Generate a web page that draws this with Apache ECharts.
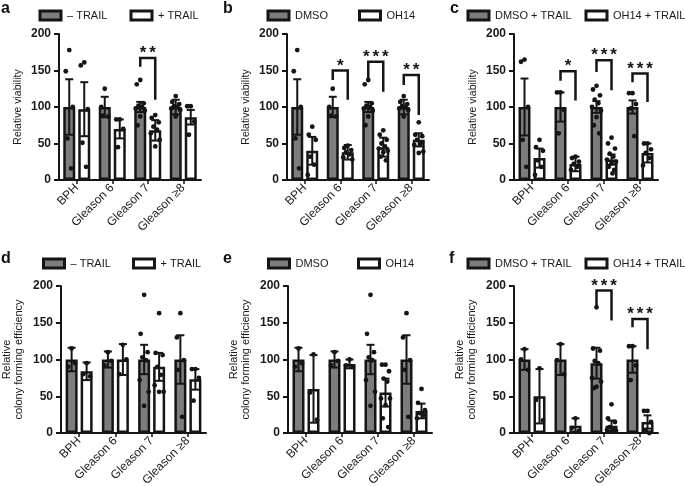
<!DOCTYPE html>
<html><head><meta charset="utf-8">
<script src="https://cdn.jsdelivr.net/npm/echarts@6/dist/echarts.min.js"></script>
<style>html,body{margin:0;padding:0;background:#fff}#c{width:685px;height:486px}</style>
</head><body><div id="c"></div>
<script>
// ---------- DATA ----------
const categories = ['BPH', 'Gleason 6', 'Gleason 7', 'Gleason \u22658'];
const panelLetters = ['a', 'b', 'c', 'd', 'e', 'f'];
const yNameTop = 'Relative viability';
const yNameBottom = 'Relative\ncolony forming efficiency';

const a_names = ['\u2013 TRAIL', '+ TRAIL'];
const a_mean_ctrl = [100, 100, 100, 100];
const a_sem_ctrl = [38, 14, 7, 10];
const a_mean_trt = [97, 70, 68, 86];
const a_sem_trt = [37, 13, 14, 10];
const a_dots_ctrl = [[178, 149, 100, 57, 16], [125, 100, 87, 88], [137, 131, 105, 102, 100, 98, 95, 87, 75], [115, 107, 104, 101, 100, 98, 96, 87]];
const a_dots_trt = [[161, 157, 97, 51, 18], [83, 83, 70, 45], [89, 85, 79, 73, 69, 64, 55, 46], [101, 101, 80, 62]];
const a_brackets = [[2, 167, 155, 110, '**']];

const b_names = ['DMSO', 'OH14'];
const b_mean_ctrl = [100, 100, 100, 100];
const b_sem_ctrl = [38, 14, 7, 10];
const b_mean_trt = [40, 38, 45, 55];
const b_sem_trt = [19, 10, 13, 9];
const b_dots_ctrl = [[178, 149, 100, 57, 16], [125, 100, 87, 88], [137, 131, 105, 102, 100, 98, 95, 87, 75], [115, 107, 104, 101, 100, 98, 96, 87]];
const b_dots_trt = [[73, 62, 55, 32, 21, 7], [47, 44, 41, 38, 35, 31, 28], [68, 62, 55, 50, 46, 43, 40, 38, 32, 27], [79, 62, 60, 55, 50, 48, 39, 37]];
const b_brackets = [[1, 150, 137, 110, '*'], [2, 162, 137, 121, '***'], [3, 144, 130, 89, '**']];

const c_names = ['DMSO + TRAIL', 'OH14 + TRAIL'];
const c_mean_ctrl = [100, 100, 100, 100];
const c_sem_ctrl = [39, 20, 8, 9];
const c_mean_trt = [30, 22, 28, 37];
const c_sem_trt = [13, 10, 7, 13];
const c_dots_ctrl = [[165, 162, 100, 55, 18], [120, 120, 96, 64], [129, 124, 116, 110, 105, 100, 95, 86, 75, 64], [119, 119, 104, 98, 60]];
const c_dots_trt = [[55, 45, 40, 27, 18, 7], [32, 30, 25, 22, 18, 14], [58, 50, 43, 36, 32, 28, 25, 23, 18, 14, 9], [50, 50, 42, 37, 30, 20]];
const c_brackets = [[1, 149, 136, 109, '*'], [2, 164, 148, 123, '***'], [3, 146, 134, 107, '***']];

const d_names = ['\u2013 TRAIL', '+ TRAIL'];
const d_mean_ctrl = [100, 100, 100, 100];
const d_sem_ctrl = [16, 11, 20, 33];
const d_mean_trt = [84, 100, 90, 73];
const d_sem_trt = [12, 21, 19, 14];
const d_dots_ctrl = [[115, 90, 95], [110, 92, 98], [188, 135, 110, 103, 99, 72, 56, 37], [163, 130, 99, 86, 22]];
const d_dots_trt = [[95, 80, 77], [120, 80, 100], [163, 109, 106, 90, 79, 65, 56, 56], [87, 87, 75, 44]];
const d_brackets = [];

const e_names = ['DMSO', 'OH14'];
const e_mean_ctrl = [100, 100, 100, 100];
const e_sem_ctrl = [16, 11, 20, 33];
const e_mean_trt = [60, 94, 55, 30];
const e_sem_trt = [46, 6, 19, 10];
const e_dots_ctrl = [[115, 90, 95], [110, 92, 98], [188, 135, 110, 103, 99, 72, 56, 37], [163, 130, 99, 86, 22]];
const e_dots_trt = [[107, 55, 18], [100, 92, 90], [93, 93, 84, 74, 70, 47, 47, 38, 20, 8], [60, 41, 31, 27, 24, 20]];
const e_brackets = [];

const f_names = ['DMSO + TRAIL', 'OH14 + TRAIL'];
const f_mean_ctrl = [100, 100, 95, 100];
const f_sem_ctrl = [14, 21, 21, 18];
const f_mean_trt = [50, 10, 10, 15];
const f_sem_trt = [37, 10, 7, 9];
const f_dots_ctrl = [[114, 100, 86], [121, 99, 80], [171, 115, 112, 98, 95, 75, 70, 63, 61], [118, 118, 92, 72]];
const f_dots_trt = [[88, 45, 17], [20, 7, 3], [39, 20, 15, 8, 5, 4, 3, 2], [30, 30, 15, 4, 0]];
const f_brackets = [[2, 194, 171, 153, '***'], [3, 155, 144, 114, '***']];

// ---------- LAYOUT / STYLE ----------
const FONT = 'Liberation Sans, Arial, Helvetica, sans-serif';
const BAR_W = 12, BAR_GAP = 0.25;
const OFF = (BAR_W + BAR_W * BAR_GAP) / 2;
const STAR_PITCH = 9.5;
const JITTER = [0, -3.5, 3.5, -1.8, 1.8, -4.5, 4.5, 0, -2.7, 2.7, 1];
const GRIDS = [
  { left: 59, top: 34, width: 142, height: 146 },
  { left: 287, top: 34, width: 142, height: 146 },
  { left: 514, top: 34, width: 144, height: 146 },
  { left: 61, top: 286, width: 145, height: 147 },
  { left: 288, top: 286, width: 144, height: 147 },
  { left: 514, top: 286, width: 144, height: 147 }
];
const LETTER_POS = [[1, 1], [223, 1], [450, 1], [1, 251], [223, 251], [449, 251]];
const LEGEND_POS = [
  [[38.5, 9.5], [129.5, 9.5]],
  [[266.5, 9.5], [358, 9.5]],
  [[466.5, 9.5], [584.5, 9.5]],
  [[42, 257.5], [132, 257.5]],
  [[267, 257.5], [357, 257.5]],
  [[466.5, 257.5], [584.5, 257.5]]
];
const GRAY = '#7d7d7d', INK = '#151515';

const panels = [
  [a_names, a_mean_ctrl, a_sem_ctrl, a_mean_trt, a_sem_trt, a_dots_ctrl, a_dots_trt, a_brackets],
  [b_names, b_mean_ctrl, b_sem_ctrl, b_mean_trt, b_sem_trt, b_dots_ctrl, b_dots_trt, b_brackets],
  [c_names, c_mean_ctrl, c_sem_ctrl, c_mean_trt, c_sem_trt, c_dots_ctrl, c_dots_trt, c_brackets],
  [d_names, d_mean_ctrl, d_sem_ctrl, d_mean_trt, d_sem_trt, d_dots_ctrl, d_dots_trt, d_brackets],
  [e_names, e_mean_ctrl, e_sem_ctrl, e_mean_trt, e_sem_trt, e_dots_ctrl, e_dots_trt, e_brackets],
  [f_names, f_mean_ctrl, f_sem_ctrl, f_mean_trt, f_sem_trt, f_dots_ctrl, f_dots_trt, f_brackets]
];

const grid = [], xAxis = [], yAxis = [], series = [], legend = [], title = [];

panels.forEach((p, i) => {
  const [names, mC, sC, mT, sT, dC, dT, br] = p;
  const g = GRIDS[i];
  grid.push(Object.assign({ containLabel: false, outerBoundsMode: 'none' }, g));
  xAxis.push({
    type: 'category', gridIndex: i, data: categories,
    axisLine: { lineStyle: { color: INK, width: 2 } },
    axisTick: { show: true, alignWithLabel: true, length: 4, lineStyle: { color: INK, width: 1.5 } },
    axisLabel: { interval: 0, rotate: 45, fontSize: 12, color: '#1a1a1a', fontFamily: FONT, margin: 6 },
    splitLine: { show: false }
  });
  yAxis.push({
    type: 'value', gridIndex: i, min: 0, max: 200, interval: 50,
    name: i < 3 ? yNameTop : yNameBottom, nameLocation: 'middle', nameGap: i < 3 ? 35 : 36,
    nameTextStyle: { fontSize: i < 3 ? 10.5 : 11, color: '#1a1a1a', fontFamily: FONT, lineHeight: 12 },
    axisLine: { show: true, lineStyle: { color: INK, width: 2 } },
    axisTick: { show: true, length: 5, lineStyle: { color: INK, width: 2 } },
    axisLabel: { fontSize: 12, fontWeight: 'bold', color: '#1a1a1a', fontFamily: FONT, margin: 8 },
    splitLine: { show: false }
  });
  title.push({ text: panelLetters[i], left: LETTER_POS[i][0], top: LETTER_POS[i][1], padding: 0,
    textStyle: { fontSize: 16, fontWeight: 'bold', color: '#111', fontFamily: FONT } });

  const barCommon = { type: 'bar', xAxisIndex: i, yAxisIndex: i, barWidth: BAR_W, barGap: (BAR_GAP * 100) + '%', z: 2, silent: true };
  series.push(Object.assign({ name: names[0], data: mC, itemStyle: { color: GRAY, borderColor: INK, borderWidth: 2.5 } }, barCommon));
  series.push(Object.assign({ name: names[1], data: mT, itemStyle: { color: '#ffffff', borderColor: INK, borderWidth: 2.5 } }, barCommon));

  names.forEach((n, k) => {
    legend.push({ left: LEGEND_POS[i][k][0], top: LEGEND_POS[i][k][1], padding: 0, icon: 'rect',
      itemWidth: 21, itemHeight: 9, itemGap: 0, selectedMode: false,
      itemStyle: { borderWidth: 3, borderColor: INK },
      textStyle: { fontSize: 11, color: '#1a1a1a', fontFamily: FONT, padding: [0, 0, 0, 1] },
      data: [n] });
  });

  // error bars
  const errData = [];
  mC.forEach((m, c) => errData.push([c, 0, m, sC[c]]));
  mT.forEach((m, c) => errData.push([c, 1, m, sT[c]]));
  series.push({
    type: 'custom', xAxisIndex: i, yAxisIndex: i, z: 3, silent: true, data: errData,
    encode: { x: 0, y: 2 },
    renderItem(params, api) {
      const cat = api.value(0), grp = api.value(1), m = api.value(2), e = api.value(3);
      const hi = api.coord([cat, m + e]);
      const lo = api.coord([cat, Math.max(0, m - e)]);
      const x = hi[0] + (grp === 0 ? -OFF : OFF);
      const st = { stroke: INK, lineWidth: 2 };
      const cw = 4;
      return { type: 'group', children: [
        { type: 'line', shape: { x1: x, y1: lo[1], x2: x, y2: hi[1] }, style: st },
        { type: 'line', shape: { x1: x - cw, y1: hi[1], x2: x + cw, y2: hi[1] }, style: st },
        { type: 'line', shape: { x1: x - cw, y1: lo[1], x2: x + cw, y2: lo[1] }, style: st }
      ] };
    }
  });

  // individual points
  const dotData = [];
  dC.forEach((arr, c) => arr.forEach((v, j) => dotData.push([c, 0, v, j])));
  dT.forEach((arr, c) => arr.forEach((v, j) => dotData.push([c, 1, v, j])));
  series.push({
    type: 'custom', xAxisIndex: i, yAxisIndex: i, z: 4, silent: true, data: dotData,
    encode: { x: 0, y: 2 },
    renderItem(params, api) {
      const cat = api.value(0), grp = api.value(1), v = api.value(2), j = api.value(3);
      const pt = api.coord([cat, v]);
      const x = pt[0] + (grp === 0 ? -OFF : OFF) + JITTER[j % JITTER.length];
      return { type: 'circle', shape: { cx: x, cy: pt[1], r: 2.4 }, style: { fill: INK } };
    }
  });

  // significance brackets
  if (br.length) {
    series.push({
      type: 'custom', xAxisIndex: i, yAxisIndex: i, z: 5, silent: true, clip: false,
      data: br.map(b => [b[0], b[1], b[2], b[3]]),
      encode: { x: 0, y: 1 },
      renderItem(params, api) {
        const b = br[params.dataIndex];
        const cat = api.value(0);
        const top = api.coord([cat, api.value(1)]);
        const l = api.coord([cat, api.value(2)]);
        const r = api.coord([cat, api.value(3)]);
        const xl = top[0] - OFF, xr = top[0] + OFF;
        const children = [
          { type: 'polyline', shape: { points: [[xl, l[1]], [xl, top[1]], [xr, top[1]], [xr, r[1]]] },
            style: { stroke: INK, lineWidth: 2.5, fill: null } }
        ];
        const n = b[4].length;
        const cx = (xl + xr) / 2;
        for (let s = 0; s < n; s++) {
          children.push({ type: 'text', x: cx + (s - (n - 1) / 2) * STAR_PITCH, y: top[1] + 4,
            style: { text: '*', align: 'center', verticalAlign: 'bottom', fontSize: 17, fontWeight: 'bold', fill: INK, fontFamily: FONT } });
        }
        return { type: 'group', children };
      }
    });
  }
});

const chart = echarts.init(document.getElementById('c'), null, { renderer: 'canvas' });
chart.setOption({ animation: false, backgroundColor: '#fff', title, legend, grid, xAxis, yAxis, series });
</script>
</body></html>
